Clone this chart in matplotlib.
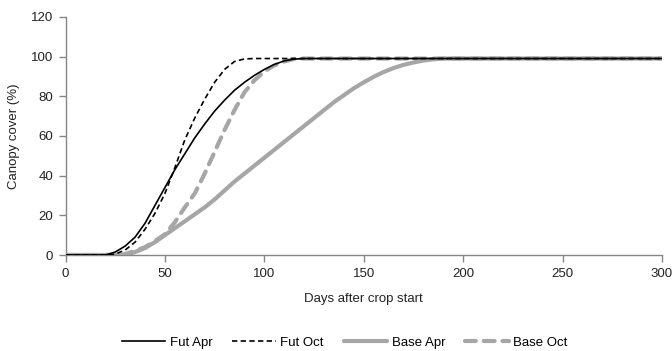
import matplotlib
matplotlib.use('Agg')
import matplotlib.pyplot as plt

plt.rcParams['font.family'] = ['Liberation Sans', 'DejaVu Sans']

# Canopy cover curves (%)
days_fut_apr = [0, 20, 25, 30, 35, 40, 45, 50, 55, 60, 65, 70, 75, 80, 85, 90, 95, 100, 105, 110, 115, 120, 300]
fut_apr = [0, 0, 1.5, 4.5, 9, 16, 25, 34, 43, 51, 59, 66, 72.5, 78, 83, 87, 90.5, 93.5, 96, 97.8, 98.7, 99, 99]

days_fut_oct = [0, 22, 25, 30, 35, 40, 45, 50, 55, 60, 65, 70, 75, 80, 85, 90, 95, 300]
fut_oct = [0, 0, 0.5, 2.5, 6.5, 13, 21, 31, 44, 58, 69, 78.5, 87, 93.5, 97.5, 98.8, 99, 99]

days_base_apr = [0, 30, 35, 40, 45, 50, 55, 60, 65, 70, 75, 80, 85, 90, 95, 100, 105, 110, 115, 120,
                 125, 130, 135, 140, 145, 150, 155, 160, 165, 170, 175, 180, 185, 190, 195, 200, 300]
base_apr = [0, 0, 1.5, 3.5, 6.5, 10, 13.5, 17, 20.5, 24, 28, 32.5, 37, 41, 45, 49, 53, 57, 61, 65,
            69, 73, 77, 80.5, 84, 87, 89.8, 92.2, 94.2, 95.8, 97, 98, 98.6, 99, 99, 99, 99]

days_base_oct = [0, 28, 30, 35, 40, 45, 50, 55, 60, 65, 70, 75, 80, 85, 90, 95, 100, 105, 110, 115, 120, 300]
base_oct = [0, 0, 0.5, 2, 4, 7, 10.5, 16.5, 24, 31, 41, 52, 63, 73, 82, 88, 92.5, 95.5, 97.5, 98.8, 99, 99]

grey = '#a6a6a6'
axis_grey = '#868686'
fs = 9.5

fig = plt.figure(figsize=(6.72, 3.51), dpi=100)
ax = fig.add_axes([0.0975, 0.2735, 0.8875, 0.6785])

ax.plot(days_base_apr, base_apr, color=grey, lw=3, solid_capstyle='round', label='Base Apr', zorder=2)
ax.plot(days_base_oct, base_oct, color=grey, lw=3, linestyle=(0, (2.6, 1.9)), dash_capstyle='round',
        label='Base Oct', zorder=3)
ax.plot(days_fut_apr, fut_apr, color='black', lw=1.2, label='Fut Apr', zorder=4)
ax.plot(days_fut_oct, fut_oct, color='black', lw=1.2, linestyle=(0, (3.2, 2.0)), label='Fut Oct', zorder=5)

ax.set_xlim(0, 300)
ax.set_ylim(0, 120)
ax.set_xticks(range(0, 301, 50))
ax.set_yticks(range(0, 121, 20))

for side in ['top', 'right']:
    ax.spines[side].set_visible(False)
for side in ['left', 'bottom']:
    ax.spines[side].set_color(axis_grey)
    ax.spines[side].set_linewidth(1.0)
ax.tick_params(axis='both', direction='out', length=5, width=1.0, color=axis_grey,
               labelsize=fs, labelcolor='#222222', pad=4)

ax.set_xlabel('Days after crop start', fontsize=fs, color='#222222', labelpad=10)
ax.set_ylabel('Canopy cover (%)', fontsize=fs, color='#222222', labelpad=8)

h, l = ax.get_legend_handles_labels()
order = [l.index(n) for n in ['Fut Apr', 'Fut Oct', 'Base Apr', 'Base Oct']]
ax.legend([h[i] for i in order], [l[i] for i in order], loc='center', ncol=4,
          bbox_to_anchor=(0.468, -0.369), bbox_transform=ax.transAxes,
          frameon=False, fontsize=fs, handlelength=3.3, handletextpad=0.35, columnspacing=1.5)

fig.savefig('out.png', dpi=100)
